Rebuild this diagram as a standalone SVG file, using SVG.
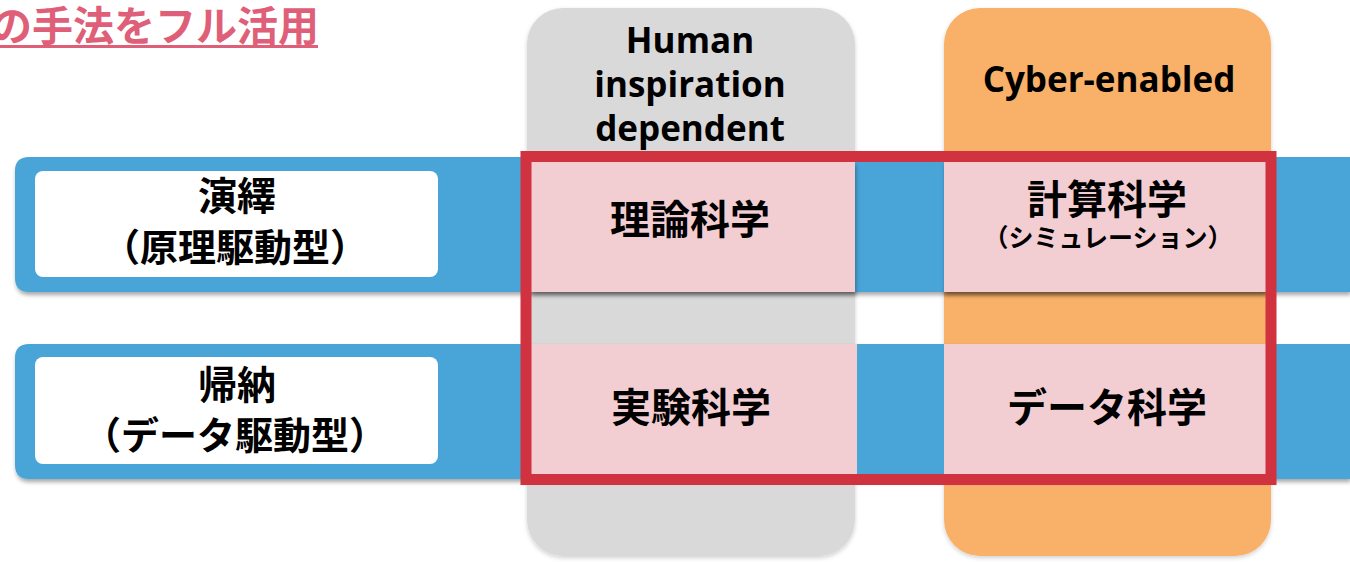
<svg xmlns="http://www.w3.org/2000/svg" width="1350" height="562" viewBox="0 0 1350 562">
<defs>
<filter id="sh" x="-10%" y="-10%" width="120%" height="130%">
<feDropShadow dx="1" dy="3" stdDeviation="2" flood-color="#000" flood-opacity="0.35"/>
</filter>
<filter id="shs" x="-10%" y="-10%" width="120%" height="130%">
<feDropShadow dx="0" dy="2" stdDeviation="2" flood-color="#000" flood-opacity="0.18"/>
</filter>
<style>
.en{font-family:"Open Sans","Noto Sans",sans-serif;font-weight:700;font-size:35px;fill:#000;text-anchor:middle}
.jp{font-family:"Noto Sans CJK JP",sans-serif;font-weight:700;fill:#000;text-anchor:middle}
.blue{fill:#4aa4d8}
.pink{fill:#f2cdd2}
.wbox{fill:#fff}
</style>
</defs>
<rect width="1350" height="562" fill="#fff"/>

<g id="title">
<text x="-9" y="41" font-family="Noto Sans CJK JP, sans-serif" font-weight="700" font-size="41" fill="#df5f78">の手法をフル活用</text>
<rect x="0" y="45" width="318" height="3" fill="#df5f78"/>
</g>

<g id="col-human">
<rect x="527" y="8" width="328" height="548" rx="36" fill="#d9d9d9" filter="url(#shs)"/>
<text class="en" x="690" y="53">Human</text>
<text class="en" x="690" y="97">inspiration</text>
<text class="en" x="690" y="141">dependent</text>
</g>

<g id="col-cyber">
<rect x="944" y="8" width="327" height="548" rx="36" fill="#f9b067" filter="url(#shs)"/>
<text class="en" x="1109" y="92" font-size="36">Cyber-enabled</text>
</g>

<g id="row-deductive">
<path class="blue" d="M29 157 H1350 V292 H29 Q15 292 15 278 V171 Q15 157 29 157 Z" filter="url(#sh)"/>
<rect class="wbox" x="35" y="171" width="403" height="106" rx="8"/>
<text class="jp" x="237" y="210" font-size="39">演繹</text>
<text class="jp" x="235" y="261" font-size="38">（原理駆動型）</text>
</g>

<g id="row-inductive">
<path class="blue" d="M29 344 H1350 V479 H29 Q15 479 15 465 V358 Q15 344 29 344 Z" filter="url(#sh)"/>
<rect class="wbox" x="35" y="357" width="403" height="107" rx="8"/>
<text class="jp" x="237" y="399" font-size="39">帰納</text>
<text class="jp" x="235" y="449" font-size="38">（データ駆動型）</text>
</g>

<g id="cell-theory">
<rect class="pink" x="531" y="162" width="324" height="130" filter="url(#sh)"/>
<text class="jp" x="690" y="234" font-size="40">理論科学</text>
</g>

<g id="cell-compute">
<rect class="pink" x="944" y="162" width="322" height="130" filter="url(#sh)"/>
<text class="jp" x="1107" y="214" font-size="40">計算科学</text>
<text class="jp" x="1108" y="247" font-size="25">（シミュレーション）</text>
</g>

<g id="cell-experiment">
<rect class="pink" x="531" y="344" width="326" height="130"/>
<text class="jp" x="691" y="422" font-size="40">実験科学</text>
</g>

<g id="cell-data">
<rect class="pink" x="944" y="344" width="322" height="130"/>
<text class="jp" x="1107" y="422" font-size="40">データ科学</text>
</g>

<g id="frame">
<rect x="526" y="156.5" width="745" height="323" fill="none" stroke="#d0323f" stroke-width="11"/>
</g>

<g id="connectors"/>
</svg>
